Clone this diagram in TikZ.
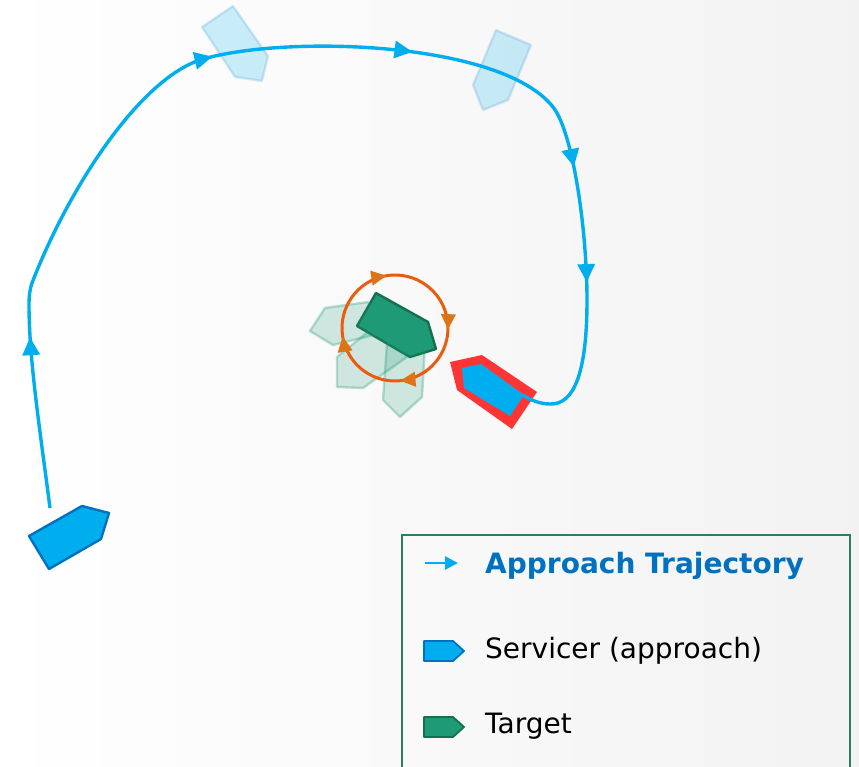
\documentclass[tikz,border=0pt]{standalone}
\usepackage{fontspec}
\setmainfont{DejaVu Sans}
\usetikzlibrary{arrows.meta,decorations.markings}
\definecolor{servfill}{HTML}{00AEEF}
\definecolor{servline}{HTML}{0070C0}
\definecolor{servred}{HTML}{FF3535}
\definecolor{tgtfill}{HTML}{1E9A76}
\definecolor{tgtline}{HTML}{14704F}
\definecolor{legline}{HTML}{2E7D5E}
\definecolor{spinline}{HTML}{EE5A0C}
\definecolor{spinhead}{HTML}{DC7418}
\definecolor{legtitle}{HTML}{0070C0}

\begin{document}
\begin{tikzpicture}[x=1pt,y=-1pt,
  >={Triangle[length=18pt,width=17pt]},
  traj/.style={draw=servfill,line width=3.4pt},
  servicer/.style={fill=servfill,draw=servline,line width=2.4pt,line join=round},
  ghostserv/.style={fill=servfill,fill opacity=0.2,draw=servline,draw opacity=0.15,line width=2.4pt,line join=round},
  target/.style={fill=tgtfill,draw=tgtline,line width=2.4pt,line join=round},
  ghosttgt/.style={fill=tgtfill,fill opacity=0.2,draw=tgtfill,draw opacity=0.3,line width=2.4pt,line join=round},
  legtext/.style={anchor=base west,inner sep=0pt,font=\fontsize{28}{32}\selectfont}]
  \useasboundingbox (0,0) rectangle (859,767);
  \clip (0,0) rectangle (859,767);
  \shade[left color=white,right color=black!5!white] (0,0) rectangle (859,767);

  % ghost positions of the servicer
  \draw[ghostserv] (233,6) -- (202,27) -- (235,77) -- (262,81) -- (268,56) -- cycle;
  \draw[ghostserv] (496,30) -- (531,45) -- (508,100) -- (483,110) -- (473,85) -- cycle;

  % target and its tumbling
  \draw[target] (376,293) -- (428,322) -- (436,349) -- (410,357) -- (357,326) -- cycle;
  \draw[ghosttgt] (310,331) -- (325,308) -- (368,302) -- (382,333) -- (333,345) -- cycle;
  \draw[ghosttgt] (337,357) -- (337,387) -- (363,388) -- (407,357) -- (380,322) -- cycle;
  \draw[ghosttgt] (387,343) -- (425,345) -- (422,397) -- (400,417) -- (383,400) -- cycle;
  \coordinate (spin) at (395,328);
  \draw[spinline,line width=3pt,postaction={decorate},
    decoration={markings,
      mark=at position 0.03 with {\arrow[spinhead,scale=0.85]{>}},
      mark=at position 0.31 with {\arrow[spinhead,scale=0.85]{>}},
      mark=at position 0.54 with {\arrow[spinhead,scale=0.85]{>}},
      mark=at position 0.78 with {\arrow[spinhead,scale=0.85]{>}}}]
    (spin) ++(250:53) arc[start angle=250,end angle=610,radius=53];

  % servicer, start and final approach
  \draw[servicer] (29,536) -- (82,506) -- (109,513) -- (101,539) -- (49,569) -- cycle;
  \fill[servred] (450,362) -- (482,355) -- (537,392) -- (512,429) -- (457,390) -- cycle;
  \fill[servfill] (462,368) -- (481,364) -- (524,395) -- (510,416) -- (464,388) -- cycle;

  \coordinate (start) at (50,508);
  \coordinate (dock) at (523,395);
  \draw[traj,postaction={decorate},
    decoration={markings,
      mark=at position 172pt with {\arrow[servfill]{>}},
      mark=at position 525pt with {\arrow[servfill]{>}},
      mark=at position 726pt with {\arrow[servfill]{>}},
      mark=at position 944pt with {\arrow[servfill]{>}},
      mark=at position 1060pt with {\arrow[servfill]{>}}}]
    (start) .. controls (40,430) and (29,360) .. (29,305)
      .. controls (29,295) and (30,289) .. (32,283)
      .. controls (70,185) and (140,80) .. (200,60)
      .. controls (280,35) and (500,40) .. (553,107)
      .. controls (573,132) and (587,230) .. (587,300)
      .. controls (587,370) and (575,405) .. (550,404)
      .. controls (540,404) and (530,400) .. (dock);

  % legend
  \draw[legline,line width=2.4pt] (402,535) rectangle (850,790);
  \coordinate (la) at (425,563);
  \coordinate (lb) at (458,563);
  \draw[traj,line width=2.6pt,-{Triangle[length=13pt,width=13pt]}] (la) -- (lb);
  \node[legtext,font=\fontsize{28}{32}\selectfont\bfseries,text=legtitle] (ltraj) at (485,573) {Approach Trajectory};
  \draw[servicer,line width=1.8pt] (424,641) -- (453,641) -- (464,651) -- (453,661) -- (424,661) -- cycle;
  \node[legtext] (lserv) at (485,658) {Servicer (approach)};
  \draw[target,line width=1.8pt] (424,717) -- (453,717) -- (464,727) -- (453,737) -- (424,737) -- cycle;
  \node[legtext] (ltgt) at (485,733) {Target};
\end{tikzpicture}
\end{document}
